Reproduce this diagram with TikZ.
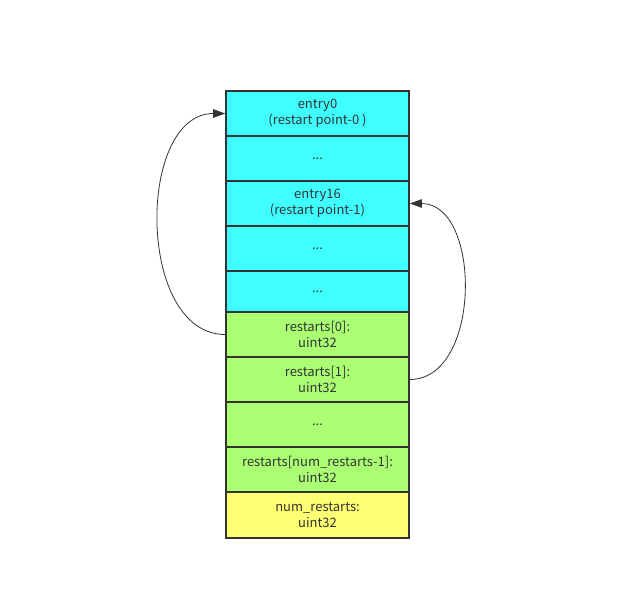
\documentclass[tikz,border=0pt]{standalone}
\usepackage{fontspec}
\setmainfont{Noto Sans CJK SC}
\usetikzlibrary{arrows.meta}
\definecolor{cyanbox}{RGB}{64,255,255}
\definecolor{greenbox}{RGB}{170,255,115}
\definecolor{yellowbox}{RGB}{255,255,115}
\definecolor{edge}{RGB}{51,51,51}
\begin{document}
\begin{tikzpicture}[x=1pt,y=-1pt,
  cell/.style={draw=edge,line width=1.6pt,minimum width=183pt,inner sep=0pt,
    align=center,text=edge,font=\fontsize{13}{15.5}\selectfont},
  link/.style={draw=edge,line width=0.8pt,-{Triangle[length=12pt,width=8.5pt]}}]
\useasboundingbox (0,0) rectangle (620,596);
\node[cell,fill=cyanbox,minimum height=45pt] (r0) at (317.5,113.5) {entry0\\(restart point-0 )};
\node[cell,fill=cyanbox,minimum height=45pt] (r1) at (317.5,158.5) {...};
\node[cell,fill=cyanbox,minimum height=45pt] (r2) at (317.5,203.5) {entry16\\(restart point-1)};
\node[cell,fill=cyanbox,minimum height=45pt] (r3) at (317.5,248.5) {...};
\node[cell,fill=cyanbox,minimum height=41pt] (r4) at (317.5,291.5) {...};
\node[cell,fill=greenbox,minimum height=45pt] (r5) at (317.5,334.5) {restarts[0]:\\uint32};
\node[cell,fill=greenbox,minimum height=45pt] (r6) at (317.5,379.5) {restarts[1]:\\uint32};
\node[cell,fill=greenbox,minimum height=45pt] (r7) at (317.5,424.5) {...};
\node[cell,fill=greenbox,minimum height=45pt] (r8) at (317.5,469.5) {restarts[num\_restarts-1]:\\uint32};
\node[cell,fill=yellowbox,minimum height=46pt] (r9) at (317.5,515) {num\_restarts:\\uint32};
\draw[link] (r5.west) .. controls +(-89,0) and +(-89,0) .. (r0.west);
\draw[link] (r6.east) .. controls +(72,0) and +(72,0) .. (r2.east);
\end{tikzpicture}
\end{document}
